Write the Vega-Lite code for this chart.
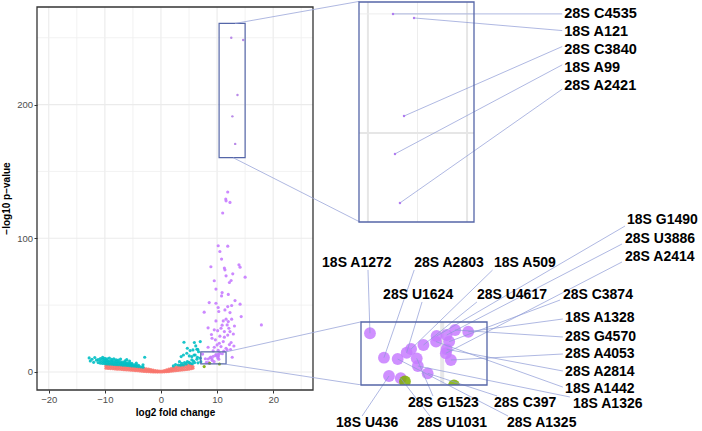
{
"$schema": "https://vega.github.io/schema/vega-lite/v6.json",
"width": 665, "height": 390, "autosize": {"type": "none"}, "padding": {"left": 37, "top": 0, "right": 0, "bottom": 41},
"background": "white",
"config": {"view": {"stroke": null}, "font": "Liberation Sans"},
"datasets": {
"mp": [
{"x":-9.8,"y":2.8,"g":"r"},{"x":-9.8,"y":4.2,"g":"r"},{"x":-9.8,"y":5.6,"g":"r"},{"x":-9.4,"y":2.6,"g":"r"},{"x":-9.4,"y":4.0,"g":"r"},{"x":-9.4,"y":5.4,"g":"r"},{"x":-9.0,"y":2.5,"g":"r"},{"x":-9.0,"y":3.9,"g":"r"},{"x":-9.0,"y":5.3,"g":"r"},{"x":-8.6,"y":2.4,"g":"r"},{"x":-8.6,"y":3.8,"g":"r"},{"x":-8.6,"y":5.2,"g":"r"},{"x":-8.2,"y":2.2,"g":"r"},{"x":-8.2,"y":3.6,"g":"r"},{"x":-8.2,"y":5.0,"g":"r"},{"x":-7.8,"y":2.1,"g":"r"},{"x":-7.8,"y":3.5,"g":"r"},{"x":-7.8,"y":4.9,"g":"r"},{"x":-7.4,"y":2.0,"g":"r"},{"x":-7.4,"y":3.4,"g":"r"},{"x":-7.4,"y":4.7,"g":"r"},{"x":-7.0,"y":1.9,"g":"r"},{"x":-7.0,"y":3.2,"g":"r"},{"x":-7.0,"y":4.6,"g":"r"},{"x":-6.6,"y":1.7,"g":"r"},{"x":-6.6,"y":3.1,"g":"r"},{"x":-6.6,"y":4.4,"g":"r"},{"x":-6.2,"y":1.6,"g":"r"},{"x":-6.2,"y":3.0,"g":"r"},{"x":-6.2,"y":4.3,"g":"r"},{"x":-5.8,"y":1.5,"g":"r"},{"x":-5.8,"y":2.8,"g":"r"},{"x":-5.8,"y":4.1,"g":"r"},{"x":-5.4,"y":1.3,"g":"r"},{"x":-5.4,"y":2.6,"g":"r"},{"x":-5.4,"y":3.9,"g":"r"},{"x":-5.0,"y":1.2,"g":"r"},{"x":-5.0,"y":2.5,"g":"r"},{"x":-5.0,"y":3.8,"g":"r"},{"x":-4.6,"y":1.0,"g":"r"},{"x":-4.6,"y":2.3,"g":"r"},{"x":-4.6,"y":3.6,"g":"r"},{"x":-4.2,"y":0.9,"g":"r"},{"x":-4.2,"y":2.1,"g":"r"},{"x":-4.2,"y":3.4,"g":"r"},{"x":-3.8,"y":0.7,"g":"r"},{"x":-3.8,"y":1.9,"g":"r"},{"x":-3.8,"y":3.1,"g":"r"},{"x":-3.4,"y":0.6,"g":"r"},{"x":-3.4,"y":1.7,"g":"r"},{"x":-3.4,"y":2.9,"g":"r"},{"x":-3.0,"y":0.4,"g":"r"},{"x":-3.0,"y":1.5,"g":"r"},{"x":-3.0,"y":2.7,"g":"r"},{"x":-2.6,"y":0.3,"g":"r"},{"x":-2.6,"y":1.3,"g":"r"},{"x":-2.6,"y":2.4,"g":"r"},{"x":-2.2,"y":0.2,"g":"r"},{"x":-2.2,"y":1.1,"g":"r"},{"x":-2.2,"y":2.1,"g":"r"},{"x":-1.8,"y":0.1,"g":"r"},{"x":-1.8,"y":0.9,"g":"r"},{"x":-1.8,"y":1.8,"g":"r"},{"x":-1.4,"y":0.05,"g":"r"},{"x":-1.4,"y":0.6,"g":"r"},{"x":-1.4,"y":1.4,"g":"r"},{"x":-1.0,"y":0.0,"g":"r"},{"x":-1.0,"y":0.4,"g":"r"},{"x":-1.0,"y":1.0,"g":"r"},{"x":-0.6,"y":0.0,"g":"r"},{"x":-0.6,"y":0.3,"g":"r"},{"x":-0.6,"y":0.8,"g":"r"},{"x":-0.2,"y":0.0,"g":"r"},{"x":-0.2,"y":0.6,"g":"r"},{"x":0.2,"y":0.0,"g":"r"},{"x":0.2,"y":0.7,"g":"r"},{"x":0.6,"y":0.1,"g":"r"},{"x":0.6,"y":0.5,"g":"r"},{"x":0.6,"y":1.1,"g":"r"},{"x":1.0,"y":0.2,"g":"r"},{"x":1.0,"y":0.8,"g":"r"},{"x":1.0,"y":1.6,"g":"r"},{"x":1.4,"y":0.3,"g":"r"},{"x":1.4,"y":1.1,"g":"r"},{"x":1.4,"y":2.1,"g":"r"},{"x":1.8,"y":0.5,"g":"r"},{"x":1.8,"y":1.5,"g":"r"},{"x":1.8,"y":2.6,"g":"r"},{"x":2.2,"y":0.7,"g":"r"},{"x":2.2,"y":1.9,"g":"r"},{"x":2.2,"y":3.1,"g":"r"},{"x":2.6,"y":0.9,"g":"r"},{"x":2.6,"y":2.2,"g":"r"},{"x":2.6,"y":3.6,"g":"r"},{"x":3.0,"y":1.1,"g":"r"},{"x":3.0,"y":2.6,"g":"r"},{"x":3.0,"y":4.1,"g":"r"},{"x":3.4,"y":1.3,"g":"r"},{"x":3.4,"y":2.9,"g":"r"},{"x":3.4,"y":4.5,"g":"r"},{"x":3.8,"y":1.5,"g":"r"},{"x":3.8,"y":3.2,"g":"r"},{"x":3.8,"y":4.9,"g":"r"},{"x":4.2,"y":1.7,"g":"r"},{"x":4.2,"y":3.5,"g":"r"},{"x":4.2,"y":5.2,"g":"r"},{"x":4.6,"y":1.9,"g":"r"},{"x":4.6,"y":3.7,"g":"r"},{"x":4.6,"y":5.4,"g":"r"},{"x":5.0,"y":2.1,"g":"r"},{"x":5.0,"y":3.9,"g":"r"},{"x":5.0,"y":5.5,"g":"r"},{"x":5.4,"y":2.4,"g":"r"},{"x":5.4,"y":4.0,"g":"r"},{"x":5.4,"y":5.3,"g":"r"},{"x":5.7,"y":2.8,"g":"r"},{"x":5.7,"y":4.0,"g":"r"},
{"x":-12.8,"y":10.5,"g":"c"},{"x":-12.6,"y":8.2,"g":"c"},{"x":-12.3,"y":9.5,"g":"c"},{"x":-12.0,"y":7.2,"g":"c"},{"x":-11.8,"y":10.8,"g":"c"},{"x":-11.5,"y":8.8,"g":"c"},{"x":-11.2,"y":7.0,"g":"c"},{"x":-11.2,"y":9.2,"g":"c"},{"x":-10.8,"y":6.5,"g":"c"},{"x":-10.8,"y":8.2,"g":"c"},{"x":-10.8,"y":10.0,"g":"c"},{"x":-10.4,"y":6.3,"g":"c"},{"x":-10.4,"y":7.8,"g":"c"},{"x":-10.4,"y":9.5,"g":"c"},{"x":-10.4,"y":10.9,"g":"c"},{"x":-10.0,"y":6.2,"g":"c"},{"x":-10.0,"y":7.5,"g":"c"},{"x":-10.0,"y":8.8,"g":"c"},{"x":-10.0,"y":10.2,"g":"c"},{"x":-9.6,"y":6.0,"g":"c"},{"x":-9.6,"y":7.3,"g":"c"},{"x":-9.6,"y":8.6,"g":"c"},{"x":-9.6,"y":9.8,"g":"c"},{"x":-9.2,"y":5.9,"g":"c"},{"x":-9.2,"y":7.1,"g":"c"},{"x":-9.2,"y":8.4,"g":"c"},{"x":-9.2,"y":10.4,"g":"c"},{"x":-8.8,"y":5.8,"g":"c"},{"x":-8.8,"y":7.0,"g":"c"},{"x":-8.8,"y":8.2,"g":"c"},{"x":-8.8,"y":9.4,"g":"c"},{"x":-8.4,"y":5.6,"g":"c"},{"x":-8.4,"y":6.8,"g":"c"},{"x":-8.4,"y":8.0,"g":"c"},{"x":-8.4,"y":9.9,"g":"c"},{"x":-8.0,"y":5.5,"g":"c"},{"x":-8.0,"y":6.7,"g":"c"},{"x":-8.0,"y":7.9,"g":"c"},{"x":-8.0,"y":9.1,"g":"c"},{"x":-7.6,"y":5.4,"g":"c"},{"x":-7.6,"y":6.5,"g":"c"},{"x":-7.6,"y":7.6,"g":"c"},{"x":-7.6,"y":8.8,"g":"c"},{"x":-7.2,"y":5.3,"g":"c"},{"x":-7.2,"y":6.4,"g":"c"},{"x":-7.2,"y":7.5,"g":"c"},{"x":-7.2,"y":9.6,"g":"c"},{"x":-6.8,"y":5.1,"g":"c"},{"x":-6.8,"y":6.2,"g":"c"},{"x":-6.8,"y":7.3,"g":"c"},{"x":-6.4,"y":5.0,"g":"c"},{"x":-6.4,"y":6.0,"g":"c"},{"x":-6.4,"y":7.1,"g":"c"},{"x":-6.4,"y":8.4,"g":"c"},{"x":-6.0,"y":4.9,"g":"c"},{"x":-6.0,"y":5.9,"g":"c"},{"x":-6.0,"y":6.9,"g":"c"},{"x":-5.6,"y":4.7,"g":"c"},{"x":-5.6,"y":5.7,"g":"c"},{"x":-5.6,"y":6.7,"g":"c"},{"x":-5.6,"y":8.1,"g":"c"},{"x":-5.2,"y":4.5,"g":"c"},{"x":-5.2,"y":5.5,"g":"c"},{"x":-5.2,"y":6.4,"g":"c"},{"x":-4.8,"y":4.4,"g":"c"},{"x":-4.8,"y":5.3,"g":"c"},{"x":-4.4,"y":4.2,"g":"c"},{"x":-4.4,"y":5.2,"g":"c"},{"x":-4.4,"y":6.6,"g":"c"},{"x":-4.0,"y":4.0,"g":"c"},{"x":-4.0,"y":5.0,"g":"c"},{"x":-3.6,"y":3.8,"g":"c"},{"x":-3.2,"y":3.6,"g":"c"},{"x":-3.2,"y":5.3,"g":"c"},{"x":-2.9,"y":11.0,"g":"c"},{"x":-6.1,"y":9.2,"g":"c"},
{"x":4.1,"y":22.2,"g":"c"},{"x":5.95,"y":22,"g":"c"},{"x":7.0,"y":22.7,"g":"c"},{"x":4.7,"y":17.7,"g":"c"},{"x":5.2,"y":16,"g":"c"},{"x":5.7,"y":16.5,"g":"c"},{"x":6.55,"y":17,"g":"c"},{"x":4.6,"y":14,"g":"c"},{"x":4.0,"y":12.7,"g":"c"},{"x":3.6,"y":11.5,"g":"c"},{"x":5.05,"y":12,"g":"c"},{"x":5.5,"y":11.5,"g":"c"},{"x":6.1,"y":12.7,"g":"c"},{"x":6.4,"y":9.5,"g":"c"},{"x":5.8,"y":8.2,"g":"c"},{"x":4.7,"y":7.7,"g":"c"},{"x":4.2,"y":7,"g":"c"},{"x":3.7,"y":6.5,"g":"c"},{"x":3.3,"y":7.7,"g":"c"},{"x":3.1,"y":5.2,"g":"c"},{"x":4.0,"y":5.2,"g":"c"},{"x":5.2,"y":6.5,"g":"c"},{"x":6.7,"y":15.2,"g":"c"},{"x":7.0,"y":10.3,"g":"c"},{"x":7.1,"y":7.7,"g":"c"},{"x":6.2,"y":19.5,"g":"c"},{"x":6.4,"y":17,"g":"c"},{"x":5.9,"y":12.7,"g":"c"},{"x":5.5,"y":9,"g":"c"},{"x":6.5,"y":11,"g":"c"},{"x":2.6,"y":5.5,"g":"c"},{"x":3.5,"y":5.0,"g":"c"},{"x":4.5,"y":6.0,"g":"c"},{"x":5.0,"y":7.2,"g":"c"},{"x":5.6,"y":6.2,"g":"c"},{"x":6.0,"y":7.0,"g":"c"},{"x":6.6,"y":6.8,"g":"c"},{"x":2.2,"y":4.5,"g":"c"},
{"x":7.7,"y":4.0,"g":"g"},
{"x":11.9,"y":134.6,"g":"p"},{"x":11.55,"y":129.4,"g":"p"},{"x":11.6,"y":128,"g":"p"},{"x":12.3,"y":126.8,"g":"p"},{"x":11.0,"y":118.9,"g":"p"},{"x":10.2,"y":94.4,"g":"p"},{"x":11.9,"y":94.1,"g":"p"},{"x":10.5,"y":90.1,"g":"p"},{"x":10.8,"y":84.4,"g":"p"},{"x":8.9,"y":78.7,"g":"p"},{"x":11.3,"y":77.7,"g":"p"},{"x":13.9,"y":80.1,"g":"p"},{"x":14.1,"y":78.4,"g":"p"},{"x":11.4,"y":76.4,"g":"p"},{"x":12.8,"y":73.4,"g":"p"},{"x":11.6,"y":71.9,"g":"p"},{"x":12.5,"y":68.4,"g":"p"},{"x":12.2,"y":66.9,"g":"p"},{"x":15.0,"y":70.9,"g":"p"},{"x":9.5,"y":68.2,"g":"p"},{"x":9.8,"y":62,"g":"p"},{"x":10.9,"y":59.4,"g":"p"},{"x":10.8,"y":56.9,"g":"p"},{"x":13.2,"y":53.4,"g":"p"},{"x":9.8,"y":51.4,"g":"p"},{"x":8.6,"y":51.9,"g":"p"},{"x":12.6,"y":49.7,"g":"p"},{"x":14.1,"y":50.7,"g":"p"},{"x":10.2,"y":48.2,"g":"p"},{"x":11.9,"y":48.9,"g":"p"},{"x":7.7,"y":44.7,"g":"p"},{"x":10.3,"y":45.2,"g":"p"},{"x":11.4,"y":46.4,"g":"p"},{"x":12.3,"y":44.4,"g":"p"},{"x":14.3,"y":41.4,"g":"p"},{"x":11.6,"y":39.5,"g":"p"},{"x":11.1,"y":38.2,"g":"p"},{"x":9.8,"y":38.2,"g":"p"},{"x":12.0,"y":37.7,"g":"p"},{"x":12.6,"y":39.5,"g":"p"},{"x":11.8,"y":35.2,"g":"p"},{"x":17.9,"y":35.2,"g":"p"},{"x":8.4,"y":33,"g":"p"},{"x":10.7,"y":32.7,"g":"p"},{"x":12.1,"y":32.7,"g":"p"},{"x":9.5,"y":31.5,"g":"p"},{"x":10.1,"y":30.9,"g":"p"},{"x":11.3,"y":30.2,"g":"p"},{"x":12.3,"y":30.2,"g":"p"},{"x":9.1,"y":25.2,"g":"p"},{"x":9.7,"y":24,"g":"p"},{"x":11.3,"y":26,"g":"p"},{"x":12.5,"y":22,"g":"p"},{"x":8.4,"y":18.5,"g":"p"},{"x":9.5,"y":18.5,"g":"p"},{"x":10.7,"y":19,"g":"p"},{"x":11.6,"y":17.7,"g":"p"},{"x":11.1,"y":22.7,"g":"p"},{"x":10.4,"y":21.5,"g":"p"},{"x":11.8,"y":16.5,"g":"p"},{"x":12.7,"y":11,"g":"p"},{"x":9.0,"y":28,"g":"p"},{"x":10.5,"y":26.8,"g":"p"},{"x":11.9,"y":27.6,"g":"p"},{"x":12.9,"y":28.4,"g":"p"},{"x":10.0,"y":20.2,"g":"p"},{"x":12.2,"y":20.5,"g":"p"},{"x":9.3,"y":15.8,"g":"p"},{"x":10.2,"y":16.2,"g":"p"},{"x":11.2,"y":15.6,"g":"p"},{"x":12.4,"y":16.8,"g":"p"},{"x":13.0,"y":19.4,"g":"p"},{"x":10.9,"y":35,"g":"p"},{"x":13.1,"y":34.4,"g":"p"},{"x":12.0,"y":58,"g":"p"}
],
"zp": [
{"x":7.42,"y":13.39,"g":"p","label":"18S A1272","lx":5.71,"ly":23.43,"sx":7.35,"sy":22.43},
{"x":7.92,"y":9.9,"g":"p","label":"28S A2803","lx":9.0,"ly":23.43,"sx":9.0,"sy":22.43},
{"x":8.1,"y":7.29,"g":"p","label":"18S U436","lx":6.21,"ly":0.57,"sx":7.14,"sy":1.57},
{"x":8.41,"y":9.71,"g":"p","label":"28S A1325","lx":12.31,"ly":0.57,"sx":12.35,"sy":1.57},
{"x":8.52,"y":6.96,"g":"p","label":"28S U1031","lx":9.1,"ly":0.57,"sx":9.56,"sy":1.57},
{"x":8.73,"y":10.61,"g":"p","label":"28S U1624","lx":7.89,"ly":18.86,"sx":9.28,"sy":17.86},
{"x":8.89,"y":11.14,"g":"p","label":"18S A509","lx":11.85,"ly":23.43,"sx":11.8,"sy":22.43},
{"x":9.09,"y":9.81,"g":"p","label":"28S G1523","lx":8.78,"ly":3.43,"sx":9.67,"sy":4.43},
{"x":9.13,"y":8.71,"g":"p","label":"18S A1326","lx":14.67,"ly":3.29,"sx":14.56,"sy":4.29},
{"x":9.33,"y":11.71,"g":"p","label":"28S U4617","lx":11.24,"ly":18.86,"sx":11.24,"sy":17.86},
{"x":9.48,"y":7.67,"g":"p","label":"28S C397","lx":11.85,"ly":3.43,"sx":11.96,"sy":4.43},
{"x":9.8,"y":13.0,"g":"p","label":"18S G1490","lx":16.6,"ly":29.57,"sx":16.53,"sy":28.71},
{"x":9.78,"y":12.19,"g":"p","label":"18S A1442","lx":14.39,"ly":5.43,"sx":14.31,"sy":5.7},
{"x":10.16,"y":13.14,"g":"p","label":"28S U3886","lx":16.53,"ly":26.86,"sx":16.42,"sy":26.14},
{"x":10.16,"y":11.1,"g":"p","label":"28S A2814","lx":14.39,"ly":7.85,"sx":14.31,"sy":8.0},
{"x":10.13,"y":10.53,"g":"p","label":"28S A2414","lx":16.53,"ly":24.29,"sx":16.42,"sy":23.57},
{"x":10.31,"y":9.57,"g":"p","label":"28S A4053","lx":14.39,"ly":10.43,"sx":14.31,"sy":10.43},
{"x":10.46,"y":13.86,"g":"p","label":"28S G4570","lx":14.39,"ly":12.86,"sx":14.31,"sy":12.86},
{"x":10.93,"y":13.61,"g":"p","label":"18S A1328","lx":14.39,"ly":15.57,"sx":14.31,"sy":15.43},
{"x":10.25,"y":12.2,"g":"p","label":"28S C3874","lx":14.31,"ly":18.86,"sx":14.21,"sy":18.14},
{"x":8.67,"y":6.5,"g":"g"},
{"x":10.42,"y":5.93,"g":"g"}
],
"up": [
{"x":12.53,"y":250,"g":"p","label":"28S C4535","lx":29.8,"ly":250,"sx":29.6,"sy":250},
{"x":14.65,"y":248.3,"g":"p","label":"18S A121","lx":29.8,"ly":242.4,"sx":29.6,"sy":243},
{"x":13.64,"y":207.1,"g":"p","label":"28S C3840","lx":29.8,"ly":234.9,"sx":29.6,"sy":236.3},
{"x":12.73,"y":191.2,"g":"p","label":"18S A99","lx":29.8,"ly":227.3,"sx":29.6,"sy":228.6},
{"x":13.23,"y":170.6,"g":"p","label":"28S A2421","lx":29.8,"ly":219.7,"sx":29.6,"sy":218.4}
],
"bx": [
{"x":10.36,"x2":15.0,"y":160.3,"y2":260.7},
{"x":7.1,"x2":11.6,"y":6,"y2":15}
],
"cn": [
{"x":13.2,"y":260.7,"x2":35.36,"y2":277.2},
{"x":12.86,"y":160.3,"x2":35.36,"y2":112.4},
{"x":11.6,"y":15,"x2":35.7,"y2":37.5},
{"x":11.2,"y":6,"x2":35.7,"y2":-9.7}
]
},
"layer": [
{"data": {"values": [{"v":-15},{"v":-5},{"v":5},{"v":15},{"v":25}]}, "mark": {"type":"rule","color":"#EFEFEF","strokeWidth":0.8},
 "encoding": {"x":{"field":"v","type":"quantitative","scale":{"domain":[-22.1,27.1],"range":[0,276],"nice":false,"zero":false},"axis":null},
 "y":{"datum":-13.5,"type":"quantitative","scale":{"domain":[-13.5,273],"range":[390,7],"nice":false,"zero":false},"axis":null},"y2":{"datum":273}}},
{"data": {"values": [{"v":-20},{"v":-10},{"v":0},{"v":10},{"v":20}]}, "mark": {"type":"rule","color":"#EBEBEB","strokeWidth":1.1},
 "encoding": {"x":{"field":"v","type":"quantitative","scale":{"domain":[-22.1,27.1],"range":[0,276],"nice":false,"zero":false},"axis":null},
 "y":{"datum":-13.5,"type":"quantitative","scale":{"domain":[-13.5,273],"range":[390,7],"nice":false,"zero":false},"axis":null},"y2":{"datum":273}}},
{"data": {"values": [{"v":50},{"v":150},{"v":250}]}, "mark": {"type":"rule","color":"#EFEFEF","strokeWidth":0.8},
 "encoding": {"y":{"field":"v","type":"quantitative","scale":{"domain":[-13.5,273],"range":[390,7],"nice":false,"zero":false},"axis":null},
 "x":{"datum":-22.1,"type":"quantitative","scale":{"domain":[-22.1,27.1],"range":[0,276],"nice":false,"zero":false},"axis":null},"x2":{"datum":27.1}}},
{"data": {"values": [{"v":0},{"v":100},{"v":200}]}, "mark": {"type":"rule","color":"#EBEBEB","strokeWidth":1.1},
 "encoding": {"y":{"field":"v","type":"quantitative","scale":{"domain":[-13.5,273],"range":[390,7],"nice":false,"zero":false},"axis":null},
 "x":{"datum":-22.1,"type":"quantitative","scale":{"domain":[-22.1,27.1],"range":[0,276],"nice":false,"zero":false},"axis":null},"x2":{"datum":27.1}}},
{"data": {"name":"mp"}, "mark": {"type":"circle","size":10,"opacity":0.9},
 "encoding": {
 "x":{"field":"x","type":"quantitative","scale":{"domain":[-22.1,27.1],"range":[0,276],"nice":false,"zero":false},
  "axis":{"orient":"bottom","values":[-20,-10,0,10,20],"grid":false,"domain":false,"ticks":true,"tickColor":"#333333","tickSize":3,"tickWidth":1,"labelFont":"Liberation Sans","labelFontSize":9.5,"labelColor":"#4D4D4D","labelPadding":1,"labelOverlap":false,"title":"log2 fold change","titleFont":"Liberation Sans","titleFontSize":10,"titleFontWeight":"bold","titleColor":"#000000","titleX":138,"titleY":22,"titleBaseline":"middle","titleAlign":"center","zindex":1}},
 "y":{"field":"y","type":"quantitative","scale":{"domain":[-13.5,273],"range":[390,7],"nice":false,"zero":false},
  "axis":{"orient":"left","values":[0,100,200],"grid":false,"domain":false,"ticks":true,"tickColor":"#333333","tickSize":3,"tickWidth":1,"labelFont":"Liberation Sans","labelFontSize":9.5,"labelColor":"#4D4D4D","labelPadding":1.5,"labelOverlap":false,"title":"−log10 p−value","titleFont":"Liberation Sans","titleFontSize":10,"titleFontWeight":"bold","titleColor":"#000000","titleX":-31,"titleY":198,"titleAngle":270,"titleBaseline":"middle","titleAlign":"center","zindex":1}},
 "color":{"field":"g","type":"nominal","scale":{"domain":["r","g","c","p"],"range":["#F8766D","#7CAE00","#00BFC4","#C77CFF"]},"legend":null}}},
{"data": {"name":"zp"}, "mark": {"type":"circle","size":10,"opacity":0.9},
 "encoding": {"x":{"field":"x","type":"quantitative","scale":{"domain":[-22.1,27.1],"range":[0,276],"nice":false,"zero":false},"axis":null},
 "y":{"field":"y","type":"quantitative","scale":{"domain":[-13.5,273],"range":[390,7],"nice":false,"zero":false},"axis":null},
 "color":{"field":"g","type":"nominal","scale":{"domain":["r","g","c","p"],"range":["#F8766D","#7CAE00","#00BFC4","#C77CFF"]},"legend":null}}},
{"data": {"name":"up"}, "mark": {"type":"circle","size":6,"opacity":1,"color":"#B98AE8"},
 "encoding": {"x":{"field":"x","type":"quantitative","scale":{"domain":[-22.1,27.1],"range":[0,276],"nice":false,"zero":false},"axis":null},
 "y":{"field":"y","type":"quantitative","scale":{"domain":[-13.5,273],"range":[390,7],"nice":false,"zero":false},"axis":null}}},
{"data": {"values":[{}]}, "mark": {"type":"rect","fill":"white","fillOpacity":0,"stroke":"#333333","strokeWidth":1.3},
 "encoding": {"x":{"datum":-22.1,"type":"quantitative","scale":{"domain":[-22.1,27.1],"range":[0,276],"nice":false,"zero":false},"axis":null},"x2":{"datum":27.1},
 "y":{"datum":-13.5,"type":"quantitative","scale":{"domain":[-13.5,273],"range":[390,7],"nice":false,"zero":false},"axis":null},"y2":{"datum":273}}},
{"data": {"name":"bx"}, "mark": {"type":"rect","fill":"white","fillOpacity":0,"stroke":"#5566A8","strokeWidth":1.2},
 "encoding": {"x":{"field":"x","type":"quantitative","scale":{"domain":[-22.1,27.1],"range":[0,276],"nice":false,"zero":false},"axis":null},"x2":{"field":"x2"},
 "y":{"field":"y","type":"quantitative","scale":{"domain":[-13.5,273],"range":[390,7],"nice":false,"zero":false},"axis":null},"y2":{"field":"y2"}}},
{"data": {"name":"cn"}, "mark": {"type":"rule","color":"#9AA6D9","strokeWidth":0.8},
 "encoding": {"x":{"field":"x","type":"quantitative","scale":{"domain":[-22.1,27.1],"range":[0,276],"nice":false,"zero":false},"axis":null},"x2":{"field":"x2"},
 "y":{"field":"y","type":"quantitative","scale":{"domain":[-13.5,273],"range":[390,7],"nice":false,"zero":false},"axis":null},"y2":{"field":"y2"}}},
{"data": {"values":[{}]}, "mark": {"type":"rect","fill":"white"},
 "encoding": {"x":{"datum":9.1,"type":"quantitative","scale":{"domain":[9.1,20.7],"range":[322,437],"nice":false,"zero":false},"axis":null},"x2":{"datum":20.7},
 "y":{"datum":162.6,"type":"quantitative","scale":{"domain":[162.6,255],"range":[222,2],"nice":false,"zero":false},"axis":null},"y2":{"datum":255}}},
{"data": {"values": [{"v":10},{"v":20}]}, "mark": {"type":"rule","color":"#E6E6E6","strokeWidth":2},
 "encoding": {"x":{"field":"v","type":"quantitative","scale":{"domain":[9.1,20.7],"range":[322,437],"nice":false,"zero":false},"axis":null},
 "y":{"datum":162.6,"type":"quantitative","scale":{"domain":[162.6,255],"range":[222,2],"nice":false,"zero":false},"axis":null},"y2":{"datum":255}}},
{"data": {"values": [{"v":15}]}, "mark": {"type":"rule","color":"#EDEDED","strokeWidth":1},
 "encoding": {"x":{"field":"v","type":"quantitative","scale":{"domain":[9.1,20.7],"range":[322,437],"nice":false,"zero":false},"axis":null},
 "y":{"datum":162.6,"type":"quantitative","scale":{"domain":[162.6,255],"range":[222,2],"nice":false,"zero":false},"axis":null},"y2":{"datum":255}}},
{"data": {"values": [{"v":200}]}, "mark": {"type":"rule","color":"#E6E6E6","strokeWidth":2},
 "encoding": {"y":{"field":"v","type":"quantitative","scale":{"domain":[162.6,255],"range":[222,2],"nice":false,"zero":false},"axis":null},
 "x":{"datum":9.1,"type":"quantitative","scale":{"domain":[9.1,20.7],"range":[322,437],"nice":false,"zero":false},"axis":null},"x2":{"datum":20.7}}},
{"data": {"values": [{"v":250}]}, "mark": {"type":"rule","color":"#EDEDED","strokeWidth":1},
 "encoding": {"y":{"field":"v","type":"quantitative","scale":{"domain":[162.6,255],"range":[222,2],"nice":false,"zero":false},"axis":null},
 "x":{"datum":9.1,"type":"quantitative","scale":{"domain":[9.1,20.7],"range":[322,437],"nice":false,"zero":false},"axis":null},"x2":{"datum":20.7}}},
{"data": {"name":"up"}, "mark": {"type":"rule","color":"#8D9AD6","strokeWidth":0.7},
 "encoding": {"x":{"field":"x","type":"quantitative","scale":{"domain":[9.1,20.7],"range":[322,437],"nice":false,"zero":false},"axis":null},"x2":{"field":"sx"},
 "y":{"field":"y","type":"quantitative","scale":{"domain":[162.6,255],"range":[222,2],"nice":false,"zero":false},"axis":null},"y2":{"field":"sy"}}},
{"data": {"name":"up"}, "mark": {"type":"circle","size":6,"opacity":1,"color":"#B07CF0"},
 "encoding": {"x":{"field":"x","type":"quantitative","scale":{"domain":[9.1,20.7],"range":[322,437],"nice":false,"zero":false},"axis":null},
 "y":{"field":"y","type":"quantitative","scale":{"domain":[162.6,255],"range":[222,2],"nice":false,"zero":false},"axis":null}}},
{"data": {"name":"up"}, "mark": {"type":"text","align":"left","baseline":"middle","font":"Liberation Sans","fontWeight":"bold","fontSize":14.5,"color":"#000000"},
 "encoding": {"x":{"field":"lx","type":"quantitative","scale":{"domain":[9.1,20.7],"range":[322,437],"nice":false,"zero":false},"axis":null},
 "y":{"field":"ly","type":"quantitative","scale":{"domain":[162.6,255],"range":[222,2],"nice":false,"zero":false},"axis":null},"text":{"field":"label"}}},
{"data": {"values":[{}]}, "mark": {"type":"rect","fill":"white","fillOpacity":0,"stroke":"#5566A8","strokeWidth":1.3},
 "encoding": {"x":{"datum":9.1,"type":"quantitative","scale":{"domain":[9.1,20.7],"range":[322,437],"nice":false,"zero":false},"axis":null},"x2":{"datum":20.7},
 "y":{"datum":162.6,"type":"quantitative","scale":{"domain":[162.6,255],"range":[222,2],"nice":false,"zero":false},"axis":null},"y2":{"datum":255}}},
{"data": {"values":[{}]}, "mark": {"type":"rect","fill":"white"},
 "encoding": {"x":{"datum":7.1,"type":"quantitative","scale":{"domain":[7.1,11.6],"range":[324,450],"nice":false,"zero":false},"axis":null},"x2":{"datum":11.6},
 "y":{"datum":6,"type":"quantitative","scale":{"domain":[6,15],"range":[385,322],"nice":false,"zero":false},"axis":null},"y2":{"datum":15}}},
{"data": {"values": [{"v":10}]}, "mark": {"type":"rule","color":"#E8E8E8","strokeWidth":4},
 "encoding": {"x":{"field":"v","type":"quantitative","scale":{"domain":[7.1,11.6],"range":[324,450],"nice":false,"zero":false},"axis":null},
 "y":{"datum":6,"type":"quantitative","scale":{"domain":[6,15],"range":[385,322],"nice":false,"zero":false},"axis":null},"y2":{"datum":15}}},
{"data": {"name":"zp"}, "mark": {"type":"circle","size":140,"opacity":0.85},
 "encoding": {"x":{"field":"x","type":"quantitative","scale":{"domain":[7.1,11.6],"range":[324,450],"nice":false,"zero":false},"axis":null},
 "y":{"field":"y","type":"quantitative","scale":{"domain":[6,15],"range":[385,322],"nice":false,"zero":false},"axis":null},
 "color":{"field":"g","type":"nominal","scale":{"domain":["r","g","c","p"],"range":["#F8766D","#7CAE00","#00BFC4","#C77CFF"]},"legend":null}}},
{"data": {"values":[{}]}, "mark": {"type":"rect","fill":"white"},
 "encoding": {"x":{"datum":7.0,"type":"quantitative","scale":{"domain":[7.1,11.6],"range":[324,450],"nice":false,"zero":false},"axis":null},"x2":{"datum":11.7},
 "y":{"datum":4.7,"type":"quantitative","scale":{"domain":[6,15],"range":[385,322],"nice":false,"zero":false},"axis":null},"y2":{"datum":6}}},
{"data": {"name":"zp"}, "transform": [{"filter":"datum.label"}], "mark": {"type":"rule","color":"#8D9AD6","strokeWidth":0.7},
 "encoding": {"x":{"field":"x","type":"quantitative","scale":{"domain":[7.1,11.6],"range":[324,450],"nice":false,"zero":false},"axis":null},"x2":{"field":"sx"},
 "y":{"field":"y","type":"quantitative","scale":{"domain":[6,15],"range":[385,322],"nice":false,"zero":false},"axis":null},"y2":{"field":"sy"}}},
{"data": {"name":"zp"}, "transform": [{"filter":"datum.label"}], "mark": {"type":"text","align":"left","baseline":"middle","font":"Liberation Sans","fontWeight":"bold","fontSize":14,"color":"#000000"},
 "encoding": {"x":{"field":"lx","type":"quantitative","scale":{"domain":[7.1,11.6],"range":[324,450],"nice":false,"zero":false},"axis":null},
 "y":{"field":"ly","type":"quantitative","scale":{"domain":[6,15],"range":[385,322],"nice":false,"zero":false},"axis":null},"text":{"field":"label"}}},
{"data": {"values":[{}]}, "mark": {"type":"rect","fill":"white","fillOpacity":0,"stroke":"#5566A8","strokeWidth":1.3},
 "encoding": {"x":{"datum":7.1,"type":"quantitative","scale":{"domain":[7.1,11.6],"range":[324,450],"nice":false,"zero":false},"axis":null},"x2":{"datum":11.6},
 "y":{"datum":6,"type":"quantitative","scale":{"domain":[6,15],"range":[385,322],"nice":false,"zero":false},"axis":null},"y2":{"datum":15}}}
],
"resolve": {"scale": {"x": "independent", "y": "independent"}}
}
